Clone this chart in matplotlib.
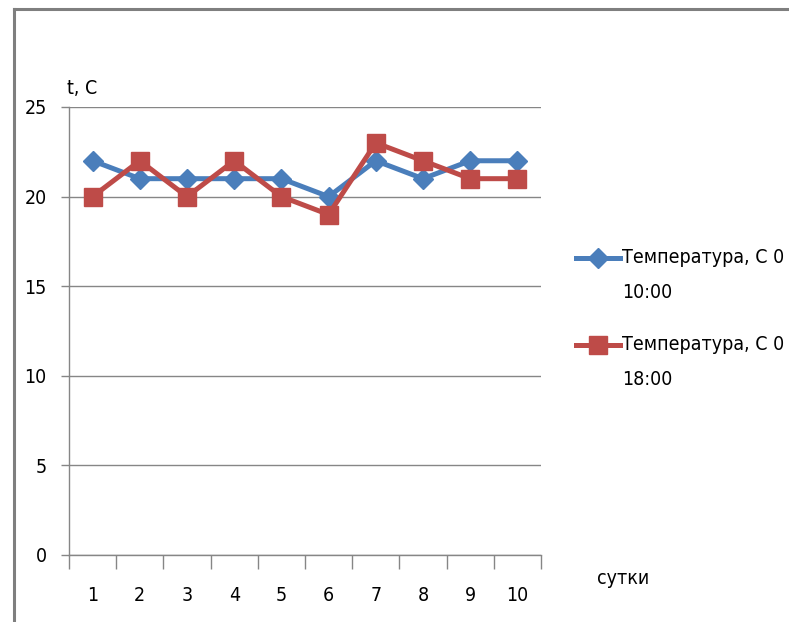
import matplotlib.pyplot as plt
from matplotlib.lines import Line2D

plt.rcParams['font.family'] = ['DejaVu Sans']
plt.rcParams['font.stretch'] = 'condensed'

days = [1, 2, 3, 4, 5, 6, 7, 8, 9, 10]
temp_10 = [22, 21, 21, 21, 21, 20, 22, 21, 22, 22]
temp_18 = [20, 22, 20, 22, 20, 19, 23, 22, 21, 21]
label_10 = 'Температура, С 0\n10:00'
label_18 = 'Температура, С 0\n18:00'

blue = '#4A7EBB'
red = '#BE4B48'
grey = '#868686'
fs = 14

W, H = 789, 622
fig = plt.figure(figsize=(W / 100, H / 100), dpi=100)
ax = fig.add_axes([69 / W, (H - 555) / H, (541 - 69) / W, (555 - 107) / H])

# chart frame (left and top edges)
fig.add_artist(Line2D([13.5 / W, 13.5 / W], [0, 1 - 8.5 / H], color='#7f7f7f', lw=2.2,
                      transform=fig.transFigure))
fig.add_artist(Line2D([13.5 / W, 1], [1 - 8.5 / H, 1 - 8.5 / H], color='#7f7f7f', lw=2.2,
                      transform=fig.transFigure))

ax.plot(days, temp_10, color=blue, lw=3.6, marker='D', ms=10, mfc=blue, mec=blue, zorder=3)
ax.plot(days, temp_18, color=red, lw=3.6, marker='s', ms=13, mfc=red, mec=red, zorder=4)

ax.set_xlim(0.5, 10.5)
ax.set_ylim(0, 25)
ax.set_yticks([0, 5, 10, 15, 20, 25])
ax.yaxis.grid(True, color=grey, lw=1)
ax.set_axisbelow(True)

ax.set_xticks(days)
ax.set_xticks([d + 0.5 for d in [0] + days], minor=True)
ax.tick_params(axis='x', which='major', length=0, pad=22, labelsize=fs, colors='black')
ax.tick_params(axis='x', which='minor', length=10, width=1, color=grey, direction='out')
ax.tick_params(axis='y', length=6, width=1, color=grey, pad=10, labelsize=fs)

for side in ['top', 'right']:
    ax.spines[side].set_visible(False)
for side in ['left', 'bottom']:
    ax.spines[side].set_color(grey)
    ax.spines[side].set_linewidth(1)

fig.text(67 / W, 1 - 89 / H, 't, C', fontsize=fs, va='center', ha='left')
fig.text(597 / W, 1 - 579 / H, 'сутки', fontsize=fs, va='center', ha='left')

# legend
for y, color, marker, ms, label in [(258, blue, 'D', 10, label_10), (345, red, 's', 13, label_18)]:
    fig.add_artist(Line2D([576 / W, 620 / W], [1 - y / H] * 2, color=color, lw=3.6,
                          transform=fig.transFigure))
    fig.add_artist(Line2D([598 / W], [1 - y / H], color=color, marker=marker, ms=ms,
                          mfc=color, mec=color, transform=fig.transFigure))
    fig.text(622 / W, 1 - (y - 10) / H, label, fontsize=fs, va='top', ha='left',
             linespacing=2.1)

fig.savefig('out.png', dpi=100)
